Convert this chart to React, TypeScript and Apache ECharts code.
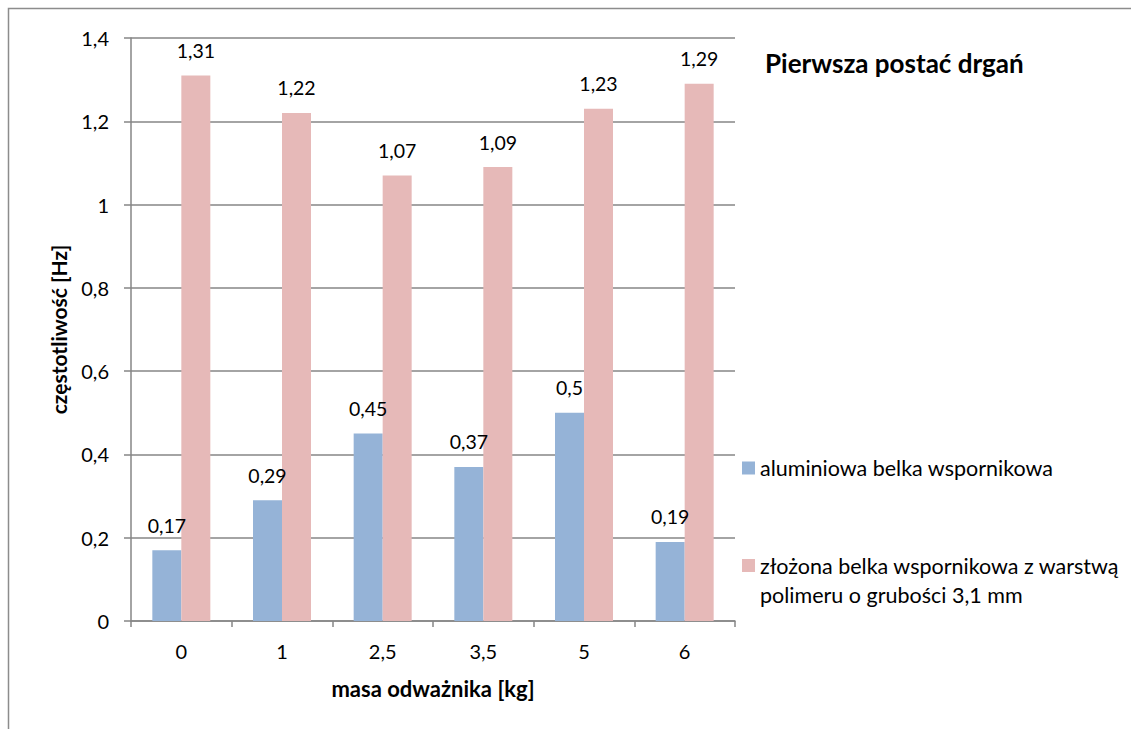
import React, { useEffect, useRef } from "react";
import * as echarts from "echarts";

const categories = ["0", "1", "2,5", "3,5", "5", "6"];
const aluminium = [0.17, 0.29, 0.45, 0.37, 0.5, 0.19];
const composite = [1.31, 1.22, 1.07, 1.09, 1.23, 1.29];
const seriesNames = [
  "aluminiowa belka wspornikowa",
  "złożona belka wspornikowa z warstwą polimeru o grubości 3,1 mm",
];
const titleText = "Pierwsza postać drgań";
const yName = "częstotliwość [Hz]";
const xName = "masa odważnika [kg]";

const FONT = "Lato, 'Open Sans', sans-serif";
const fmt = (v: number) => String(v).replace(".", ",");
// square at top of a taller box, so that it lines up with the first text line
const topSquareIcon = "path://M0,0h13v13h-13z M0,42h0.05v0.05h-0.05z";

export default function App() {
  const ref = useRef<HTMLDivElement>(null);
  useEffect(() => {
    if (!ref.current) return;
    const chart = echarts.init(ref.current, null, { renderer: "svg" });
    const labelStyle = {
      show: true,
      position: "top" as const,
      distance: 15,
      color: "#000",
      fontFamily: FONT,
      fontSize: 19.5,
      formatter: (p: any) => fmt(p.value),
    };
    chart.setOption({
      animation: false,
      backgroundColor: "#fff",
      textStyle: { fontFamily: FONT },
      title: {
        text: titleText,
        left: 760,
        top: 45,
        textStyle: { fontFamily: FONT, fontWeight: "bold", fontSize: 26, color: "#000" },
      },
      grid: { left: 131, top: 38, right: 396, bottom: 108 },
      legend: [
        {
          data: [seriesNames[0]],
          left: 737,
          top: 452,
          icon: "rect",
          itemWidth: 13,
          itemHeight: 13,
          itemGap: 6,
          textStyle: { fontFamily: FONT, fontSize: 21.5, color: "#000" },
        },
        {
          data: [seriesNames[1]],
          left: 737,
          top: 546,
          icon: topSquareIcon,
          itemWidth: 13,
          itemHeight: 42,
          formatter: () => "złożona belka wspornikowa z warstwą\npolimeru o grubości 3,1 mm",
          textStyle: { fontFamily: FONT, fontSize: 21.5, color: "#000", lineHeight: 29 },
        },
      ],
      xAxis: {
        type: "category",
        data: categories,
        name: xName,
        nameLocation: "middle",
        nameGap: 56,
        nameTextStyle: { fontFamily: FONT, fontWeight: "bold", fontSize: 22, color: "#000" },
        axisLine: { lineStyle: { color: "#868686", width: 1.5 } },
        axisTick: { show: true, length: 6, alignWithLabel: false, lineStyle: { color: "#868686", width: 1.5 } },
        axisLabel: { color: "#000", fontFamily: FONT, fontSize: 20, margin: 20 },
      },
      yAxis: {
        type: "value",
        min: 0,
        max: 1.4,
        interval: 0.2,
        name: yName,
        nameLocation: "middle",
        nameGap: 62,
        nameTextStyle: { fontFamily: FONT, fontWeight: "bold", fontSize: 21, color: "#000" },
        axisLine: { show: true, lineStyle: { color: "#868686", width: 1.5 } },
        axisTick: { show: true, length: 7, lineStyle: { color: "#868686", width: 1.5 } },
        axisLabel: {
          color: "#000",
          fontFamily: FONT,
          fontSize: 20,
          margin: 22,
          formatter: (v: number) => fmt(Math.round(v * 10) / 10),
        },
        splitLine: { show: true, lineStyle: { color: "#868686", width: 1.5 } },
      },
      series: [
        {
          name: seriesNames[0],
          type: "bar",
          data: aluminium,
          barWidth: 29,
          barGap: "0%",
          itemStyle: { color: "#95B3D7" },
          label: labelStyle,
        },
        {
          name: seriesNames[1],
          type: "bar",
          data: composite,
          barWidth: 29,
          barGap: "0%",
          itemStyle: { color: "#E6B9B8" },
          label: labelStyle,
        },
      ],
      graphic: [
        {
          type: "rect",
          shape: { x: 8.5, y: 8.5, width: 1300, height: 900 },
          style: { fill: "none", stroke: "#8c8c8c", lineWidth: 1.5 },
          silent: true,
        },
      ],
    });
    return () => chart.dispose();
  }, []);
  return (
    <div
      ref={ref}
      style={{ position: "fixed", left: 0, top: 0, width: 1131, height: 729 }}
    />
  );
}
